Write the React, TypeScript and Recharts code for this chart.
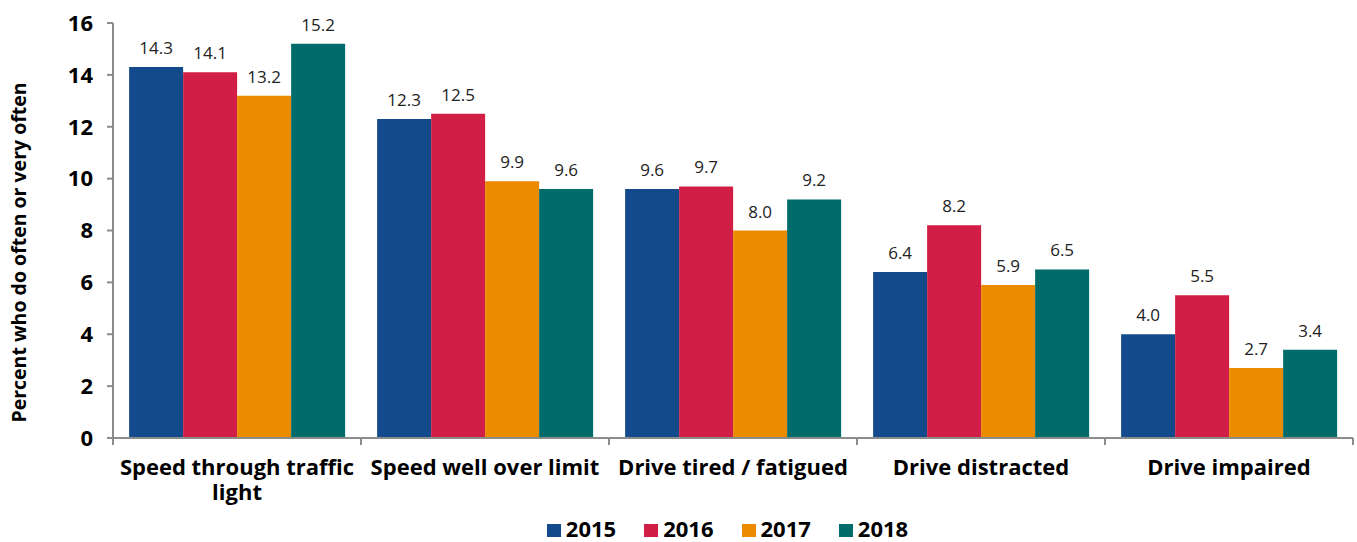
import { BarChart, Bar, XAxis, YAxis, Legend, LabelList, usePlotArea } from "recharts";

const categories = [
  "Speed through traffic\nlight",
  "Speed well over limit",
  "Drive tired / fatigued",
  "Drive distracted",
  "Drive impaired",
];

const v2015 = [14.3, 12.3, 9.6, 6.4, 4.0];
const v2016 = [14.1, 12.5, 9.7, 8.2, 5.5];
const v2017 = [13.2, 9.9, 8.0, 5.9, 2.7];
const v2018 = [15.2, 9.6, 9.2, 6.5, 3.4];

const yTicks = [0, 2, 4, 6, 8, 10, 12, 14, 16];

const series = [
  { key: "2015", color: "#134a8b" },
  { key: "2016", color: "#d01e46" },
  { key: "2017", color: "#ec8a00" },
  { key: "2018", color: "#006b6b" },
];

const data = categories.map((name, i) => ({
  name,
  "2015": v2015[i],
  "2016": v2016[i],
  "2017": v2017[i],
  "2018": v2018[i],
}));

const font = "'Open Sans', 'Noto Sans', sans-serif";
const axisGrey = "#8c8c8c";

// category label plus the tick marks at the category boundaries
function CategoryTick(props: any) {
  const { x, y, payload, index } = props;
  const area = usePlotArea();
  const half = payload.offset || (area ? area.width / categories.length / 2 : 0);
  const last = index === categories.length - 1;
  const lines = String(payload.value).split("\n");
  return (
    <g>
      <line x1={x - half} x2={x - half} y1={y - 7} y2={y} stroke={axisGrey} strokeWidth={2} />
      {last && <line x1={x + half} x2={x + half} y1={y - 7} y2={y} stroke={axisGrey} strokeWidth={2} />}
      {lines.map((t, i) => (
        <text
          key={i}
          x={x}
          y={y + 30 + i * 25}
          textAnchor="middle"
          fontFamily={font}
          fontWeight={700}
          fontSize={22}
          fill="#000"
        >
          {t}
        </text>
      ))}
    </g>
  );
}

function LegendContent() {
  return (
    <div
      style={{
        height: 46,
        boxSizing: "border-box",
        paddingTop: 18,
        paddingLeft: 126,
        display: "flex",
        justifyContent: "center",
        alignItems: "center",
        fontFamily: font,
      }}
    >
      {series.map((s) => (
        <div key={s.key} style={{ display: "flex", alignItems: "center", marginRight: 28, height: 28 }}>
          <span style={{ width: 14, height: 13, background: s.color, marginRight: 5, marginTop: 4 }} />
          <span style={{ fontSize: 22, fontWeight: 700, color: "#000" }}>{s.key}</span>
        </div>
      ))}
    </div>
  );
}

export default function App() {
  return (
    <div style={{ position: "absolute", left: 0, top: 0, background: "#fff" }}>
      <BarChart
        width={1357}
        height={542}
        data={data}
        margin={{ top: 23, right: 4, bottom: 0, left: 0 }}
        barCategoryGap="6.5%"
        barGap={0}
      >
        <XAxis
          dataKey="name"
          interval={0}
          tickLine={false}
          tickSize={7}
          tickMargin={0}
          axisLine={{ stroke: axisGrey, strokeWidth: 2 }}
          tick={<CategoryTick />}
          height={58}
        />
        <YAxis
          domain={[0, 16]}
          ticks={yTicks}
          width={113}
          axisLine={{ stroke: axisGrey, strokeWidth: 2 }}
          tickLine={{ stroke: axisGrey, strokeWidth: 2 }}
          tickSize={6}
          tickMargin={14}
          tick={{ fill: "#000", fontSize: 22, fontWeight: 700, fontFamily: font }}
          label={{
            value: "Percent who do often or very often",
            angle: -90,
            position: "insideLeft",
            dx: 14,
            dy: 22,
            style: { textAnchor: "middle", fill: "#000", fontSize: 19.5, fontWeight: 700, fontFamily: font },
          }}
        />
        <Legend verticalAlign="bottom" align="center" content={<LegendContent />} wrapperStyle={{ left: 0, width: 1357 }} />
        {series.map((s) => (
          <Bar key={s.key} dataKey={s.key} fill={s.color} isAnimationActive={false}>
            <LabelList
              dataKey={s.key}
              position="top"
              offset={13}
              formatter={(v: any) => Number(v).toFixed(1)}
              style={{ fill: "#222", fontSize: 17, fontFamily: font }}
            />
          </Bar>
        ))}
      </BarChart>
    </div>
  );
}
